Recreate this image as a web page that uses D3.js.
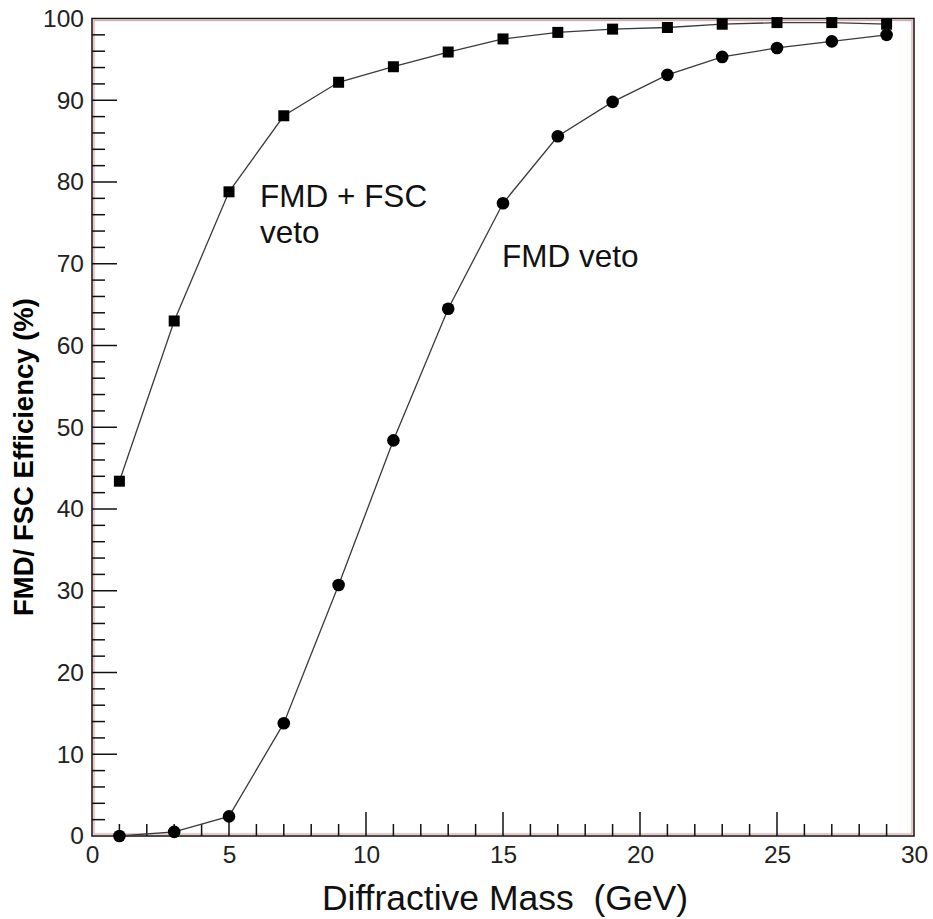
<!DOCTYPE html>
<html>
<head>
<meta charset="utf-8">
<script src="https://cdn.jsdelivr.net/npm/d3@7"></script>
<style>
  html, body { margin: 0; padding: 0; background: #fff; }
  svg { display: block; font-family: "Liberation Sans", Arial, sans-serif; }
</style>
</head>
<body>
<svg id="chart" width="933" height="919"></svg>
<script>
// Diffractive mass (GeV) sampled every 2 GeV
const mass = [1, 3, 5, 7, 9, 11, 13, 15, 17, 19, 21, 23, 25, 27, 29];
// Efficiency (%) with FMD + FSC veto
const effFmdFsc = [43.4, 63.0, 78.8, 88.1, 92.2, 94.1, 95.9, 97.5, 98.3, 98.7, 98.9, 99.3, 99.5, 99.5, 99.3];
// Efficiency (%) with FMD veto only
const effFmd = [0.0, 0.5, 2.4, 13.8, 30.7, 48.4, 64.5, 77.4, 85.6, 89.8, 93.1, 95.3, 96.4, 97.2, 98.0];

const xMajor = [0, 5, 10, 15, 20, 25, 30];
const yMajor = [0, 10, 20, 30, 40, 50, 60, 70, 80, 90, 100];
const xMinor = d3.range(0, 31, 1).filter(v => v % 5 !== 0);
const yMinor = d3.range(0, 101, 2).filter(v => v % 10 !== 0);

const svg = d3.select("#chart");
const plotL = 92, plotR = 914, plotT = 18.5, plotB = 836;

const x = d3.scaleLinear().domain([0, 30]).range([plotL, plotR]);
const y = d3.scaleLinear().domain([0, 100]).range([plotB, plotT]);

// plot frame: black outline with a thin red inner rule
svg.append("rect")
  .attr("x", plotL + 2).attr("y", plotT + 2)
  .attr("width", plotR - plotL - 4).attr("height", plotB - plotT - 4)
  .attr("fill", "none").attr("stroke", "#e2a4a4").attr("stroke-width", 1.2);
svg.append("rect")
  .attr("x", plotL).attr("y", plotT)
  .attr("width", plotR - plotL).attr("height", plotB - plotT)
  .attr("fill", "none").attr("stroke", "#111").attr("stroke-width", 1.5);

// inward tick marks
const ticks = svg.append("g").attr("stroke", "#111").attr("stroke-width", 1.5);
const xTick = (vals, len) => ticks.append("g").selectAll("line").data(vals).join("line")
  .attr("x1", d => x(d)).attr("x2", d => x(d))
  .attr("y1", plotB).attr("y2", plotB - len);
const yTick = (vals, len) => ticks.append("g").selectAll("line").data(vals).join("line")
  .attr("y1", d => y(d)).attr("y2", d => y(d))
  .attr("x1", plotL).attr("x2", plotL + len);
xTick(xMinor, 12);
xTick(xMajor.slice(1, -1), 24);
yTick(yMinor, 13);
yTick(yMajor.slice(1, -1), 25);

// tick labels
const styleLabels = g => {
  g.select(".domain").remove();
  g.selectAll("line").remove();
  g.selectAll("text").attr("fill", "#222").attr("font-family", null).style("font-size", "24.5px");
};
svg.append("g").attr("transform", `translate(0,${plotB})`)
  .call(d3.axisBottom(x).tickValues(xMajor).tickSize(0).tickPadding(10).tickFormat(d3.format("d")))
  .call(styleLabels);
svg.append("g").attr("transform", `translate(${plotL},0)`)
  .call(d3.axisLeft(y).tickValues(yMajor).tickSize(0).tickPadding(8).tickFormat(d3.format("d")))
  .call(styleLabels);

// series lines
const line = d3.line().x(d => x(d[0])).y(d => y(d[1]));
const seriesA = mass.map((m, i) => [m, effFmdFsc[i]]);
const seriesB = mass.map((m, i) => [m, effFmd[i]]);

[seriesA, seriesB].forEach(s => {
  svg.append("path").datum(s)
    .attr("d", line)
    .attr("fill", "none")
    .attr("stroke", "#3a3a3a")
    .attr("stroke-width", 1.3);
});

// markers
const sq = 11;
svg.append("g").selectAll("rect").data(seriesA).join("rect")
  .attr("x", d => x(d[0]) - sq / 2).attr("y", d => y(d[1]) - sq / 2)
  .attr("width", sq).attr("height", sq).attr("fill", "#000");
svg.append("g").selectAll("circle").data(seriesB).join("circle")
  .attr("cx", d => x(d[0])).attr("cy", d => y(d[1]))
  .attr("r", 6.3).attr("fill", "#000");

// curve annotations
const ann = svg.append("g").attr("fill", "#111").style("font-size", "31.5px");
ann.append("text").attr("x", 260).attr("y", 207).text("FMD + FSC");
ann.append("text").attr("x", 260).attr("y", 243).text("veto");
ann.append("text").attr("x", 502).attr("y", 267).text("FMD veto");

// axis titles
svg.append("text")
  .attr("x", 505).attr("y", 910)
  .attr("text-anchor", "middle")
  .style("font-size", "35.5px").style("white-space", "pre")
  .attr("fill", "#111")
  .text("Diffractive Mass  (GeV)");

svg.append("text")
  .attr("transform", "translate(33,457) rotate(-90)")
  .attr("text-anchor", "middle")
  .style("font-size", "28px").style("font-weight", "bold")
  .attr("textLength", 318).attr("lengthAdjust", "spacingAndGlyphs")
  .attr("fill", "#000")
  .text("FMD/ FSC Efficiency (%)");
</script>
</body>
</html>
